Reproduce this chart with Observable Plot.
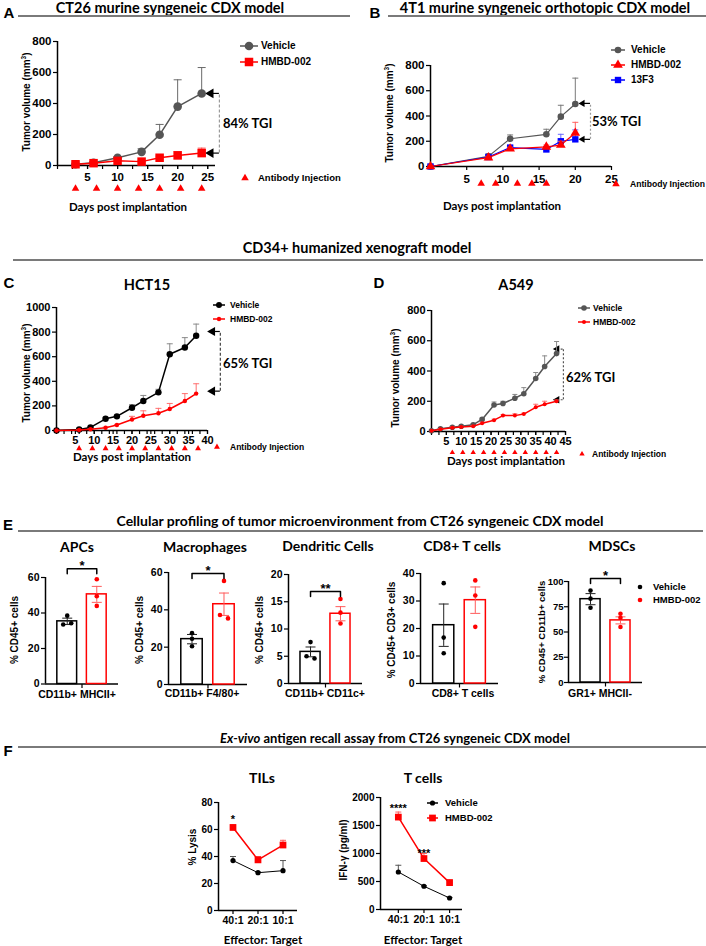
<!DOCTYPE html>
<html><head><meta charset="utf-8">
<script src="https://cdn.jsdelivr.net/npm/d3@7"></script>
<script src="https://cdn.jsdelivr.net/npm/@observablehq/plot@0.6"></script>
<style>
html,body{margin:0;padding:0;background:#fff;}
#root{position:relative;width:706px;height:946px;overflow:hidden;background:#fff;}
.t{position:absolute;white-space:nowrap;line-height:1;}
.t sup{font-size:0.65em;line-height:0;vertical-align:0.55em;}
</style></head><body><div id="root"></div>
<script>
// ================= DATA =================
// Panel A – CT26 syngeneic
const daysA = [3, 6, 10, 14, 17, 20, 24];
const vehicleA = [8, 18, 50, 88, 198, 380, 465];
const vehicleErrA = [4, 8, 6, 20, 67, 173, 167];
const hmbdA = [8, 15, 30, 25, 50, 65, 80];
const hmbdErrA = [4, 10, 8, 6, 10, 25, 32];
const injectionA = [3, 6.5, 10, 13.5, 17, 20.5, 24];
const tgiLevelsA = [465, 80];
// Panel B – 4T1 orthotopic
const daysB = [0, 8, 11, 16, 18, 20];
const vehicleB = [0, 80, 220, 255, 395, 495];
const vehicleErrB = [0, 20, 30, 40, 90, 205];
const hmbdB = [0, 70, 140, 155, 170, 265];
const hmbdErrB = [0, 10, 12, 15, 30, 85];
const f3B = [0, 75, 150, 135, 200, 215];
const f3ErrB = [0, 10, 12, 20, 55, 75];
const injectionB = [7, 9, 12, 14, 16];
const tgiLevelsB = [500, 215];
// Panel C – HCT15
const daysC = [0, 6, 9, 13, 16, 20, 23, 27, 30, 34, 37];
const vehicleC = [0, 8, 25, 95, 115, 185, 240, 310, 620, 675, 770];
const vehicleErrC = [0, 3, 5, 8, 8, 25, 45, 25, 85, 80, 95];
const hmbdC = [0, 5, 10, 22, 45, 90, 120, 140, 175, 240, 300];
const hmbdErrC = [0, 2, 3, 5, 5, 25, 40, 40, 45, 60, 80];
const injectionC = [6, 9.5, 13, 16.5, 20, 23.5, 27, 30.5, 34, 37.5];
const tgiLevelsC = [805, 320];
// Panel D – A549
const daysD = [0, 3, 7, 10, 14, 17, 21, 24, 28, 31, 35, 38, 42];
const vehicleD = [5, 18, 28, 35, 45, 80, 175, 185, 220, 250, 350, 430, 515];
const vehicleErrD = [0, 3, 5, 5, 5, 8, 20, 15, 25, 40, 40, 70, 80];
const hmbdD = [5, 15, 25, 30, 35, 55, 75, 105, 105, 115, 160, 180, 200];
const hmbdErrD = [0, 3, 4, 4, 5, 6, 6, 6, 12, 6, 20, 20, 8];
const injectionD = [7, 10.5, 14, 17.5, 21, 24.5, 28, 31.5, 35, 38.5, 42];
const tgiLevelsD = [545, 210];
const tgiLabels = ["84% TGI", "53% TGI", "65% TGI", "62% TGI"];
const seriesNames = ["Vehicle", "HMBD-002", "13F3"];
// Panel E – cellular profiling
const groups = ["Vehicle", "HMBD-002"];
const apcMean = [35.3, 50.5], apcSem = [1.8, 4.5];
const apcVehicleDots = [38.5, 33.5, 34.2], apcHmbdDots = [59, 49.5, 44];
const macMean = [24.3, 43], macSem = [2.5, 6];
const macVehicleDots = [27.5, 24.5, 20.5], macHmbdDots = [55.5, 37.2, 35.4];
const dcMean = [5.8, 12.8], dcSem = [0.9, 1.3];
const dcVehicleDots = [7.6, 5.0, 4.6], dcHmbdDots = [15.5, 13.0, 11.0];
const cd8Mean = [21.2, 30.3], cd8Sem = [7.7, 4.8];
const cd8VehicleDots = [36.5, 16.7, 11], cd8HmbdDots = [37.5, 32, 20.6];
const mdscMean = [82.5, 61.5], mdscSem = [5.5, 3.5];
const mdscVehicleDots = [91, 83, 74], mdscHmbdDots = [68, 64, 55];
// Panel F – antigen recall
const ratios = ["40:1", "20:1", "10:1"];
const tilVehicle = [37, 28, 29.5], tilVehicleErr = [3, 0.5, 7.5];
const tilHmbd = [61.5, 37.5, 48.5], tilHmbdErr = [2, 2.5, 3.5];
const tcVehicle = [670, 415, 205], tcVehicleErr = [120, 10, 10];
const tcHmbd = [1650, 910, 480], tcHmbdErr = [90, 90, 50];
// tick values
const ticks800 = [0, 200, 400, 600, 800];
const ticks1000 = [0, 200, 400, 600, 800, 1000];

// ================= HELPERS =================
const root = document.getElementById("root");
const ARIAL = "'Liberation Sans', Arial, sans-serif";
const LATO = "Lato, 'Open Sans', sans-serif";
const RED = "#ff0000", GRAY = "#555555", BLUE = "#0000ff";
const fmt = d => String(d);

function txt(s, x, y, o = {}) {
  const d = document.createElement("div");
  d.className = "t";
  d.innerHTML = s;
  const a = o.anchor || "middle";
  const tx = a === "middle" ? "-50%" : a === "end" ? "-100%" : "0";
  d.style.left = x + "px"; d.style.top = y + "px";
  d.style.fontFamily = o.family || ARIAL;
  d.style.fontSize = (o.size || 11) + "px";
  d.style.fontWeight = o.weight || "bold";
  d.style.color = o.color || "#000";
  if (o.italic) d.style.fontStyle = "italic";
  d.style.transform = `translate(${tx},-50%)` + (o.rotate ? ` rotate(${o.rotate}deg)` : "");
  root.appendChild(d);
  return d;
}
function hrule(x1, x2, y) {
  const d = document.createElement("div");
  d.style.cssText = `position:absolute;left:${x1}px;top:${y - 0.75}px;width:${x2 - x1}px;height:1.5px;background:#7a7a7a;`;
  root.appendChild(d);
}
const capSym = {draw(ctx, size) { const w = Math.sqrt(size / Math.PI); ctx.moveTo(-w, 0); ctx.lineTo(w, 0); }};

function framePlot(frame, scales, marks) {
  const [x0, x1, y0, y1] = frame;
  const mL = 70, mR = 30, mT = 30, mB = 45;
  const svg = Plot.plot({
    width: mL + (x1 - x0) + mR, height: mT + (y1 - y0) + mB,
    marginLeft: mL, marginRight: mR, marginTop: mT, marginBottom: mB,
    ...scales, marks,
    style: {background: "transparent", overflow: "visible", fontFamily: ARIAL, fontSize: "11px", color: "#000"}
  });
  svg.style.position = "absolute";
  svg.style.left = (x0 - mL) + "px";
  svg.style.top = (y0 - mT) + "px";
  svg.style.maxWidth = "none";
  svg.style.overflow = "visible";
  root.appendChild(svg);
  return svg;
}

function seriesMarks(s) {
  const data = s.xs.map((x, i) => ({x, v: s.vals[i], e: s.errs ? s.errs[i] : 0}));
  const err = data.filter(d => d.e > 0);
  return [
    Plot.ruleX(err, {x: "x", y1: "v", y2: d => d.v + d.e, stroke: s.errColor, strokeWidth: 1}),
    Plot.dot(err, {x: "x", y: d => d.v + d.e, symbol: capSym, r: s.cap || 3, stroke: s.errColor, fill: "none", strokeWidth: 1}),
    Plot.line(data, {x: "x", y: "v", stroke: s.color, strokeWidth: s.lw || 1.5}),
    Plot.dot(data, {x: "x", y: "v", symbol: s.symbol, r: s.r, fill: s.color, stroke: "none"})
  ];
}

function linePanel(c) {
  const marks = [
    Plot.ruleY([c.yDomain[0]], {stroke: "#000", strokeWidth: 1.5}),
    Plot.ruleX([c.xDomain[0]], {stroke: "#000", strokeWidth: 1.5})
  ];
  if (c.xMinor) marks.push(Plot.axisX({ticks: c.xMinor, tickSize: 4, tickFormat: () => "", label: null, strokeWidth: 1.2}));
  marks.push(Plot.axisX({ticks: c.xTicks, tickSize: 4, tickPadding: c.xPad ?? 2, tickFormat: fmt, label: null, fontSize: c.fs, fontWeight: "bold", strokeWidth: 1.2}));
  marks.push(Plot.axisY({ticks: c.yTicks, tickSize: 4, tickPadding: 2, tickFormat: fmt, label: null, fontSize: c.fs, fontWeight: "bold", strokeWidth: 1.2}));
  if (c.tgi) {
    const t = c.tgi;
    marks.push(Plot.ruleX([t.x], {y1: Math.min(...t.levels), y2: Math.max(...t.levels), stroke: t.color, strokeDasharray: t.dash, strokeWidth: 1.2}));
    marks.push(Plot.ruleY(t.levels, {x1: t.arrowX, x2: t.x, y: d => d, stroke: t.shaftColor, strokeDasharray: t.shaftDash, strokeWidth: 1.2}));
    marks.push(Plot.dot(t.levels, {x: t.arrowX, y: d => d, symbol: "triangle", rotate: -90, fill: "#000", stroke: "none", r: t.r}));
  }
  for (const s of c.series) marks.push(...seriesMarks(s));
  marks.push(Plot.dot(c.injections, {x: d => d, y: c.yDomain[0], dy: c.injDy, symbol: "triangle", fill: RED, stroke: "none", r: c.injR}));
  framePlot(c.frame, {x: {domain: c.xDomain}, y: {domain: c.yDomain}}, marks);
}

function barPanel(c) {
  const [x0, x1, y0, y1] = c.frame;
  const pxY = (y1 - y0) / (c.yDomain[1] - c.yDomain[0]);
  const pi = 0.33, po = 0.4;
  const sb = d3.scaleBand(groups, [x0, x1]).paddingInner(pi).paddingOuter(po).align(0.5);
  const c0 = sb(groups[0]) + sb.bandwidth() / 2;
  const colors = ["#000000", RED], errColors = ["#222222", "#ff5a5a"];
  const marks = [
    Plot.ruleY([0], {stroke: "#000", strokeWidth: 1.5}),
    Plot.ruleX([groups[0]], {dx: x0 - c0, stroke: "#000", strokeWidth: 1.5}),
    Plot.link([groups[0]], {x1: d => d, x2: d => d, y1: 0, y2: -4 / pxY, dx: sb.step() / 2, stroke: "#000", strokeWidth: 1.2}),
    Plot.axisY({ticks: c.yTicks, tickSize: 4, tickPadding: c.tickPad ?? 2, tickFormat: fmt, label: null, fontSize: c.tickFs ?? 10.5, fontWeight: "bold", strokeWidth: 1.2})
  ];
  groups.forEach((g, i) => {
    const row = [{g, mean: c.mean[i], sem: c.sem[i]}];
    marks.push(Plot.barY(row, {x: "g", y: "mean", fill: "white", stroke: colors[i], strokeWidth: 1.5}));
    marks.push(Plot.ruleX(row, {x: "g", y1: d => d.mean - d.sem, y2: d => d.mean + d.sem, stroke: errColors[i], strokeWidth: 1}));
    marks.push(Plot.dot(row, {x: "g", y: d => d.mean + d.sem, symbol: capSym, r: 5, stroke: errColors[i], fill: "none", strokeWidth: 1}));
    marks.push(Plot.dot(row, {x: "g", y: d => d.mean - d.sem, symbol: capSym, r: 5, stroke: errColors[i], fill: "none", strokeWidth: 1}));
    // dots: spread apart only where two values nearly coincide
    const vals = c.dots[i];
    const offs = vals.map((v, j) => {
      const partner = vals.findIndex((w, k) => k !== j && Math.abs(w - v) * pxY < 4);
      if (partner < 0) return 0;
      return j < partner ? -4 : 4;
    });
    for (const off of [...new Set(offs)]) {
      marks.push(Plot.dot(vals.filter((v, j) => offs[j] === off).map(v => ({g, v})),
        {x: "g", y: "v", dx: off, r: 2.3, fill: colors[i], stroke: "none"}));
    }
  });
  if (c.sig) {
    const drop = 5 / pxY;
    const br = [{g: groups[0], y: c.sig.y - drop}, {g: groups[0], y: c.sig.y}, {g: groups[1], y: c.sig.y}, {g: groups[1], y: c.sig.y - drop}];
    marks.push(Plot.line(br, {x: "g", y: "y", stroke: "#000", strokeWidth: 1.5}));
    marks.push(Plot.text([c.sig], {x: () => groups[0], y: "y", text: "label", dx: sb.step() / 2, dy: -3, fontSize: 13, fontWeight: "bold"}));
  }
  framePlot(c.frame, {
    x: {type: "band", domain: groups, paddingInner: pi, paddingOuter: po, align: 0.5, round: false, axis: null},
    y: {domain: c.yDomain}
  }, marks);
}

function catPanel(c) {
  const [x0, x1] = c.frame;
  const sp = d3.scalePoint(ratios, [x0, x1]).padding(c.padding).align(c.align);
  const marks = [
    Plot.ruleY([0], {stroke: "#000", strokeWidth: 1.5}),
    Plot.ruleX([ratios[0]], {dx: x0 - sp(ratios[0]), stroke: "#000", strokeWidth: 1.5}),
    Plot.axisX({tickSize: 4, tickPadding: 2, label: null, fontSize: 10.5, fontWeight: "bold", strokeWidth: 1.2}),
    Plot.axisY({ticks: c.yTicks, tickSize: 4, tickPadding: 2, tickFormat: fmt, label: null, fontSize: 10, fontWeight: "bold", strokeWidth: 1.2})
  ];
  for (const s of c.series) marks.push(...seriesMarks(s));
  marks.push(Plot.text(c.stars, {x: "x", y: "y", text: "t", fontSize: 11, fontWeight: "bold"}));
  framePlot(c.frame, {
    x: {type: "point", domain: ratios, padding: c.padding, align: c.align, round: false},
    y: {domain: c.yDomain}
  }, marks);
}

// ================= PANELS =================
// A
linePanel({
  frame: [57, 215, 41, 165], xDomain: [0, 26.3], yDomain: [0, 800], fs: 11.5, xPad: 3,
  yTicks: ticks800, xTicks: [5, 10, 15, 20, 25], xMinor: d3.range(0, 26.3, 2.5),
  series: [
    {xs: daysA, vals: vehicleA, errs: vehicleErrA, color: GRAY, errColor: "#6a6a6a", symbol: "circle", r: 4.3, lw: 1.5, cap: 4},
    {xs: daysA, vals: hmbdA, errs: hmbdErrA, color: RED, errColor: "#ff5050", symbol: "square", r: 4.8, lw: 1.5, cap: 4}
  ],
  injections: injectionA, injDy: 23, injR: 2.8,
  tgi: {x: 26.95, arrowX: 25.5, levels: tgiLevelsA, color: "#9a9a9a", dash: "3,2", shaftColor: "#000", r: 3.6}
});
// B
linePanel({
  frame: [430, 611, 65, 166], xDomain: [0, 25], yDomain: [0, 800], fs: 11.5, xPad: 4,
  yTicks: ticks800, xTicks: [5, 10, 15, 20, 25],
  series: [
    {xs: daysB, vals: vehicleB, errs: vehicleErrB, color: GRAY, errColor: "#7a7a7a", symbol: "circle", r: 3.3, lw: 1.2, cap: 3},
    {xs: daysB, vals: f3B, errs: f3ErrB, color: BLUE, errColor: "#6a6aff", symbol: "square", r: 3.6, lw: 1.2, cap: 3},
    {xs: daysB, vals: hmbdB, errs: hmbdErrB, color: RED, errColor: "#ff6060", symbol: "triangle", r: 3.6, lw: 1.2, cap: 3}
  ],
  injections: injectionB, injDy: 17, injR: 2.8,
  tgi: {x: 22.1, arrowX: 21.0, levels: tgiLevelsB, color: "#9a9a9a", dash: "2,2", shaftColor: "#000", r: 2.6}
});
// C
linePanel({
  frame: [56, 207, 307, 430], xDomain: [0, 40], yDomain: [0, 1000], fs: 11,
  yTicks: ticks1000, xTicks: [5, 10, 15, 20, 25, 30, 35, 40], xMinor: d3.range(0, 40.1, 2),
  series: [
    {xs: daysC, vals: vehicleC, errs: vehicleErrC, color: "#000", errColor: "#8a8a8a", symbol: "circle", r: 3.2, lw: 1.5, cap: 3},
    {xs: daysC, vals: hmbdC, errs: hmbdErrC, color: RED, errColor: "#ff7070", symbol: "circle", r: 2.2, lw: 1.5, cap: 3}
  ],
  injections: injectionC, injDy: 18, injR: 2.2,
  tgi: {x: 43.4, arrowX: 41.3, levels: tgiLevelsC, color: "#444", dash: "3,2", shaftColor: "#000", r: 3.4}
});
// D
linePanel({
  frame: [431, 565, 310, 431], xDomain: [0, 45], yDomain: [0, 800], fs: 11,
  yTicks: ticks800, xTicks: [5, 10, 15, 20, 25, 30, 35, 40, 45], xMinor: d3.range(0, 45.1, 2.5),
  series: [
    {xs: daysD, vals: vehicleD, errs: vehicleErrD, color: GRAY, errColor: "#8a8a8a", symbol: "circle", r: 2.8, lw: 1.5, cap: 2.5},
    {xs: daysD, vals: hmbdD, errs: hmbdErrD, color: RED, errColor: "#ff7070", symbol: "circle", r: 2.0, lw: 1.5, cap: 2.5}
  ],
  injections: injectionD, injDy: 21, injR: 2.0,
  tgi: {x: 44.3, arrowX: 42.2, levels: tgiLevelsD, color: "#555", dash: "2,2", shaftColor: "#555", shaftDash: "2,2", r: 2.8}
});
// E
barPanel({frame: [45, 118, 577, 683.5], yDomain: [0, 60], yTicks: [0, 20, 40, 60], mean: apcMean, sem: apcSem, dots: [apcVehicleDots, apcHmbdDots], sig: {label: "*", y: 65}});
barPanel({frame: [168, 247, 572, 684], yDomain: [0, 60], yTicks: [0, 20, 40, 60], mean: macMean, sem: macSem, dots: [macVehicleDots, macHmbdDots], sig: {label: "*", y: 59.5}});
barPanel({frame: [288, 362, 574, 683], yDomain: [0, 20], yTicks: [0, 5, 10, 15, 20], mean: dcMean, sem: dcSem, dots: [dcVehicleDots, dcHmbdDots], sig: {label: "**", y: 16.9}});
barPanel({frame: [420, 498, 573, 683], yDomain: [0, 40], yTicks: [0, 10, 20, 30, 40], mean: cd8Mean, sem: cd8Sem, dots: [cd8VehicleDots, cd8HmbdDots]});
barPanel({frame: [568, 642, 581, 682], yDomain: [0, 100], yTicks: [0, 25, 50, 75, 100], tickPad: 1, tickFs: 9.5, mean: mdscMean, sem: mdscSem, dots: [mdscVehicleDots, mdscHmbdDots], sig: {label: "*", y: 103}});
// F
catPanel({
  frame: [218, 297, 802, 910], yDomain: [0, 80], yTicks: [0, 20, 40, 60, 80], padding: 0.58, align: 0.5,
  series: [
    {xs: ratios, vals: tilVehicle, errs: tilVehicleErr, color: "#000", errColor: "#555", symbol: "circle", r: 2.6, lw: 1, cap: 3},
    {xs: ratios, vals: tilHmbd, errs: tilHmbdErr, color: RED, errColor: "#ff6060", symbol: "square", r: 3.8, lw: 1.5, cap: 3}
  ],
  stars: [{x: "40:1", y: 67.5, t: "*"}]
});
catPanel({
  frame: [380, 462, 797, 909], yDomain: [0, 2000], yTicks: [0, 500, 1000, 1500, 2000], padding: 0.6, align: 0.58,
  series: [
    {xs: ratios, vals: tcVehicle, errs: tcVehicleErr, color: "#000", errColor: "#555", symbol: "circle", r: 2.6, lw: 1, cap: 3},
    {xs: ratios, vals: tcHmbd, errs: tcHmbdErr, color: RED, errColor: "#ff6060", symbol: "square", r: 3.8, lw: 1.5, cap: 3}
  ],
  stars: [{x: "40:1", y: 1800, t: "****"}, {x: "20:1", y: 1000, t: "***"}]
});

// ================= TEXT, RULES, LEGENDS =================
const YL = "Tumor volume (mm<sup>3</sup>)";
// A / B
txt("A", 9, 12, {size: 15});
txt("CT26 murine syngeneic CDX model", 170, 8, {size: 14.5, family: LATO});
hrule(18, 350, 16);
txt("B", 375, 12, {size: 15});
txt("4T1 murine syngeneic orthotopic CDX model", 545, 8, {size: 14.5, family: LATO});
hrule(388, 706, 16);
txt(YL, 27, 102, {rotate: -90, size: 10});
txt("Days post implantation", 128, 207, {size: 11.5, family: LATO});
txt(tgiLabels[0], 223, 123, {anchor: "start", size: 13, family: LATO});
txt("Antibody Injection", 258, 178, {anchor: "start", size: 9.5});
txt(seriesNames[0], 261, 46, {anchor: "start", size: 10});
txt(seriesNames[1], 261, 62, {anchor: "start", size: 10});
txt(YL, 390, 113, {rotate: -90, size: 10});
txt("Days post implantation", 502, 206, {size: 11.5, family: LATO});
txt(tgiLabels[1], 592, 121, {anchor: "start", size: 13, family: LATO});
txt("Antibody Injection", 630, 184, {anchor: "start", size: 8.6});
txt(seriesNames[0], 631, 50, {anchor: "start", size: 10});
txt(seriesNames[1], 631, 65, {anchor: "start", size: 10});
txt(seriesNames[2], 631, 80, {anchor: "start", size: 10});
// C / D
txt("CD34+ humanized xenograft model", 357, 248, {size: 14.5, family: LATO});
hrule(13, 703, 260);
txt("C", 9, 282, {size: 15});
txt("HCT15", 147, 285, {size: 14.5, family: LATO});
txt("D", 379, 282, {size: 15});
txt("A549", 516, 285, {size: 14.5, family: LATO});
txt(YL, 27, 373, {rotate: -90, size: 10});
txt("Days post implantation", 132, 457, {size: 11.5, family: LATO});
txt(tgiLabels[2], 223, 363, {anchor: "start", size: 13, family: LATO});
txt("Antibody Injection", 230, 447, {anchor: "start", size: 8.5});
txt(seriesNames[0], 230, 305, {anchor: "start", size: 8.5});
txt(seriesNames[1], 230, 319, {anchor: "start", size: 8.5});
txt(YL, 396, 378, {rotate: -90, size: 10});
txt("Days post implantation", 506, 461, {size: 11.5, family: LATO});
txt(tgiLabels[3], 566, 377, {anchor: "start", size: 13, family: LATO});
txt("Antibody Injection", 592, 454, {anchor: "start", size: 8.5});
txt(seriesNames[0], 593, 308, {anchor: "start", size: 8.5});
txt(seriesNames[1], 593, 322, {anchor: "start", size: 8.5});
// E
txt("E", 8, 524, {size: 15});
txt("Cellular profiling of tumor microenvironment from CT26 syngeneic CDX model", 360, 521, {size: 14, family: LATO});
hrule(18, 703, 531);
txt("APCs", 77, 547, {size: 14, family: LATO});
txt("Macrophages", 205, 547, {size: 14, family: LATO});
txt("Dendritic Cells", 328, 546, {size: 14, family: LATO});
txt("CD8+ T cells", 462, 546, {size: 14, family: LATO});
txt("MDSCs", 612, 546, {size: 14, family: LATO});
txt("% CD45+ cells", 15, 630, {rotate: -90, size: 10});
txt("% CD45+ cells", 140, 630, {rotate: -90, size: 10});
txt("% CD45+ cells", 260, 630, {rotate: -90, size: 10});
txt("% CD45+ CD3+ cells", 392, 630, {rotate: -90, size: 10});
txt("% CD45+ CD11b+ cells", 542, 632, {rotate: -90, size: 9.5});
txt("CD11b+ MHCII+", 77, 694, {size: 10.5});
txt("CD11b+ F4/80+", 202, 693, {size: 10.5});
txt("CD11b+ CD11c+", 325, 693, {size: 10.5});
txt("CD8+ T cells", 463, 693, {size: 10.5});
txt("GR1+ MHCII-", 600, 693, {size: 10.5});
txt(groups[0], 653, 587, {anchor: "start", size: 9.5});
txt(groups[1], 653, 600, {anchor: "start", size: 9.5});
// F
txt("F", 8, 750, {size: 15});
txt("<i>Ex-vivo</i> antigen recall assay from CT26 syngeneic CDX model", 395, 738, {size: 13, family: LATO});
hrule(18, 706, 747);
txt("TILs", 262, 778, {size: 14, family: LATO});
txt("T cells", 423, 778, {size: 14, family: LATO});
txt("% Lysis", 193, 847, {rotate: -90, size: 10});
txt("IFN-γ (pg/ml)", 344, 850, {rotate: -90, size: 10});
txt("Effector: Target", 263, 940, {size: 11.5, family: LATO});
txt("Effector: Target", 423, 940, {size: 11.5, family: LATO});
txt(groups[0], 445, 803, {anchor: "start", size: 9.5});
txt(groups[1], 445, 818, {anchor: "start", size: 9.5});

// legend swatches
const ov = d3.select(root).append("svg").attr("width", 706).attr("height", 946)
  .style("position", "absolute").style("left", 0).style("top", 0).style("pointer-events", "none");
const SYM = {circle: d3.symbolCircle, square: d3.symbolSquare, triangle: d3.symbolTriangle};
function swatch(x1, x2, y, color, sym, r, withLine = true) {
  if (withLine) ov.append("line").attr("x1", x1).attr("x2", x2).attr("y1", y).attr("y2", y).attr("stroke", color).attr("stroke-width", 1.5);
  ov.append("path").attr("transform", `translate(${(x1 + x2) / 2},${y})`).attr("d", d3.symbol(SYM[sym], Math.PI * r * r)()).attr("fill", color);
}
swatch(240, 258, 46, GRAY, "circle", 4.3);
swatch(240, 258, 62, RED, "square", 4.8);
swatch(241, 249, 178, RED, "triangle", 2.8, false);
swatch(611, 625, 50, GRAY, "circle", 3.3);
swatch(611, 625, 65, RED, "triangle", 3.6);
swatch(611, 625, 80, BLUE, "square", 3.6);
swatch(612, 620, 184, RED, "triangle", 2.8, false);
swatch(213, 225, 305, "#000", "circle", 3.0);
swatch(213, 225, 319, RED, "circle", 2.2);
swatch(213, 221, 447, RED, "triangle", 2.2, false);
swatch(578, 590, 308, GRAY, "circle", 2.8);
swatch(578, 590, 322, RED, "circle", 2.0);
swatch(578, 586, 454, RED, "triangle", 2.0, false);
swatch(636, 644, 587, "#000", "circle", 2.3, false);
swatch(636, 644, 600, RED, "circle", 2.3, false);
swatch(427, 438, 803, "#000", "circle", 2.6);
swatch(427, 438, 818, RED, "square", 3.8);
</script></body></html>
